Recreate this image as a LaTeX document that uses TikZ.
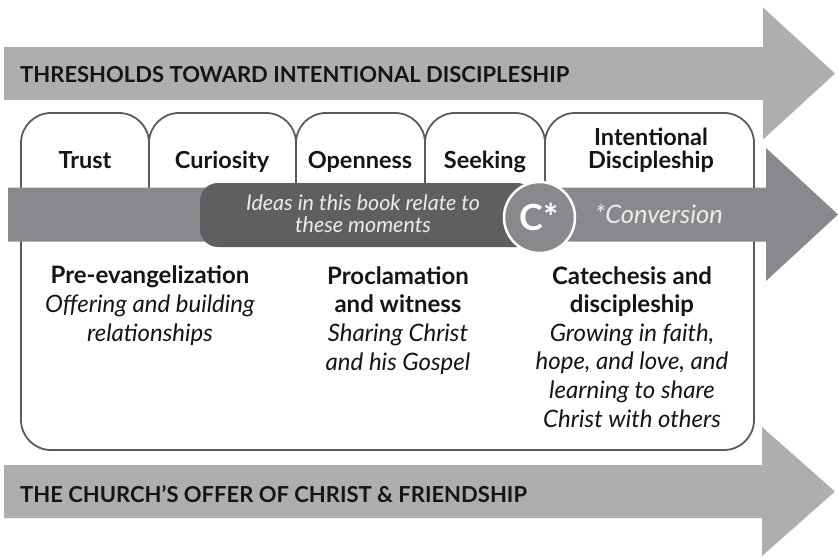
\documentclass[tikz,border=0pt]{standalone}
\usepackage{fontspec}
\setmainfont{Lato}
\definecolor{arrowlight}{HTML}{ADAEB0}
\definecolor{arrowmid}{HTML}{88898C}
\definecolor{darkbox}{HTML}{5E5F61}
\definecolor{outline}{HTML}{5A5B5D}
\definecolor{ink}{HTML}{151515}
\definecolor{softwhite}{HTML}{ECECED}
\begin{document}
\begin{tikzpicture}[x=1pt,y=-1pt,
  boxline/.style={draw=outline,line width=1.8pt,fill=white},
  tablabel/.style={font=\fontsize{23.5}{23}\selectfont\bfseries,text=ink,anchor=base,inner sep=0},
  tabtwo/.style={font=\fontsize{23.5}{23}\selectfont\bfseries,text=ink,align=center,anchor=base,inner sep=0},
  banner/.style={font=\fontsize{22}{22}\selectfont\bfseries,text=ink,anchor=base west,inner sep=0},
  block/.style={font=\fontsize{24}{28.6}\selectfont,text=ink,align=center,anchor=base,inner sep=0},
  moment/.style={font=\fontsize{21.5}{22}\selectfont\itshape,text=softwhite,align=center,anchor=base,inner sep=0},
]
\useasboundingbox (0,0) rectangle (838,559);
% top and bottom arrows
\fill[arrowlight] (4,47) -- (763,47) -- (763,7.5) -- (835,73.5) -- (763,139.5) -- (763,100) -- (4,100) -- cycle;
\fill[arrowlight] (4,465) -- (762,465) -- (762,427) -- (835,491.5) -- (762,556) -- (762,518) -- (4,518) -- cycle;
% main box and tabs
\draw[boxline,rounded corners=30] (21,200) -- (21,450) -- (754,450) -- (754,200);
\draw[boxline,rounded corners=30] (21,200) -- (21,113) -- (149,113) -- (149,200);
\draw[boxline,rounded corners=30] (149,200) -- (149,113) -- (296,113) -- (296,200);
\draw[boxline,rounded corners=30] (296,200) -- (296,113) -- (425,113) -- (425,200);
\draw[boxline,rounded corners=30] (425,200) -- (425,113) -- (545,113) -- (545,200);
\draw[boxline,rounded corners=30] (545,200) -- (545,113) -- (754,113) -- (754,200);
% middle arrow
\fill[arrowmid] (8,187.5) -- (766,187.5) -- (766,148) -- (838,214.5) -- (766,281) -- (766,241.5) -- (8,241.5) -- cycle;
\fill[darkbox,rounded corners=18] (200,183) rectangle (535,247);
\node[circle,fill=arrowmid,draw=white,line width=2.5pt,minimum size=71pt,inner sep=0] (conv) at (539.5,217.5) {};
% texts
\node[banner] (thresholds) at (20,82.5) {THRESHOLDS TOWARD INTENTIONAL DISCIPLESHIP};
\node[banner] (offer) at (20,502.5) {THE CHURCH’S OFFER OF CHRIST \& FRIENDSHIP};
\node[tablabel] (trust) at (85,168) {Trust};
\node[tablabel] (curiosity) at (222,168) {Curiosity};
\node[tablabel] (openness) at (360,168) {Openness};
\node[tablabel] (seeking) at (485,168) {Seeking};
\node[tabtwo] (intentional) at (651,168) {Intentional\\Discipleship};
\node[moment] (ideas) at (363,232) {Ideas in this book relate to\\these moments};
\node[font=\fontsize{36}{36}\selectfont\bfseries,text=white,anchor=base,inner sep=0] (cstar) at (539.5,230) {C*};
\node[font=\fontsize{25.5}{25}\selectfont\itshape,text=softwhite,anchor=base west,inner sep=0] (convlabel) at (595,223) {*Conversion};
\node[block] (preev) at (150,341) {\textbf{Pre-evangelization}\\\textit{Offering and building}\\\textit{relationships}};
\node[block] (procl) at (398,370) {\textbf{Proclamation}\\\textbf{and witness}\\\textit{Sharing Christ}\\\textit{and his Gospel}};
\node[block] (cate) at (632,427) {\textbf{Catechesis and}\\\textbf{discipleship}\\\textit{Growing in faith,}\\\textit{hope, and love, and}\\\textit{learning to share}\\\textit{Christ with others}};
\end{tikzpicture}
\end{document}
